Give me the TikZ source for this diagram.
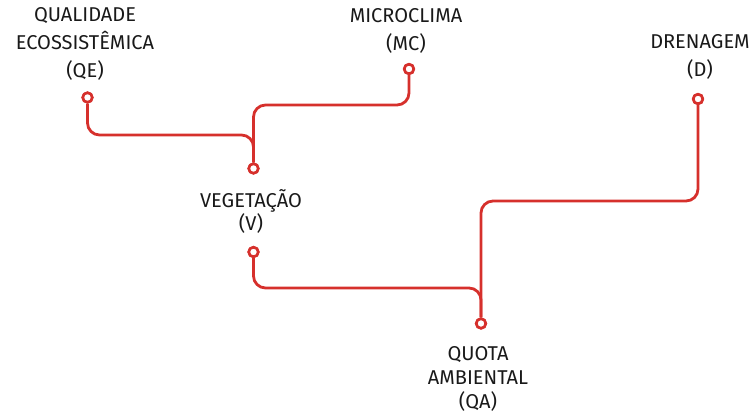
\documentclass[tikz,border=0pt]{standalone}
\usepackage{fontspec}
\setmainfont{Fira Sans}
\usetikzlibrary{positioning}
\definecolor{wirered}{RGB}{214, 48, 44}
\definecolor{ink}{RGB}{25, 25, 25}

\begin{document}
\begin{tikzpicture}[
    x=1pt, y=-1pt,
    pin/.style={
      circle, draw=wirered, fill=white, line width=2.6pt,
      inner sep=0pt, minimum size=9.5pt
    },
    wire/.style={draw=wirered, line width=2.8pt, rounded corners=12pt},
    lbl/.style={
      text=ink, align=center, inner sep=0pt,
      font=\fontsize{20}{28}\selectfont
    }
  ]
  \useasboundingbox (0,0) rectangle (752,418);

  % ── Pins ───────────────────────────────────────────────────────
  \node[pin] (qe) at (87.5, 97.5)  {};
  \node[pin] (mc) at (409, 69)     {};
  \node[pin] (vt) at (253.5, 168.5){};
  \node[pin] (vb) at (253.5, 252)  {};
  \node[pin] (dr) at (698, 99)     {};
  \node[pin] (qa) at (481, 323.5)  {};

  % ── Junction points ────────────────────────────────────────────
  \coordinate (jqe) at (253.5, 135);
  \coordinate (jmc) at (253.5, 105);
  \coordinate (jvb) at (481, 288);
  \coordinate (jdr) at (481, 201);

  % ── Wires ──────────────────────────────────────────────────────
  \draw[wire] (mc) |- (jmc) -- (vt);
  \draw[wire] (qe) |- (jqe) -- (vt);
  \draw[wire] (dr) |- (jdr) -- (qa);
  \draw[wire] (vb) |- (jvb) -- (qa);

  % pins again, on top of the wires
  \foreach \p in {qe, mc, vt, vb, dr, qa}
    \node[pin] at (\p) {};

  % ── Labels ─────────────────────────────────────────────────────
  \node[lbl] (qetxt) at (85, 44)  {QUALIDADE\\ECOSSIST\^EMICA\\(QE)};
  \node[lbl] (mctxt) at (406, 31) {MICROCLIMA\\(MC)};
  \node[lbl] (drtxt) at (700, 57) {DRENAGEM\\(D)};
  \node[lbl, font=\fontsize{20}{23}\selectfont] (vtxt) at (251, 211)
    {VEGETAÇÃO\\(V)};
  \node[lbl, font=\fontsize{20}{24}\selectfont] (qatxt) at (478, 379)
    {QUOTA\\AMBIENTAL\\(QA)};

\end{tikzpicture}
\end{document}
